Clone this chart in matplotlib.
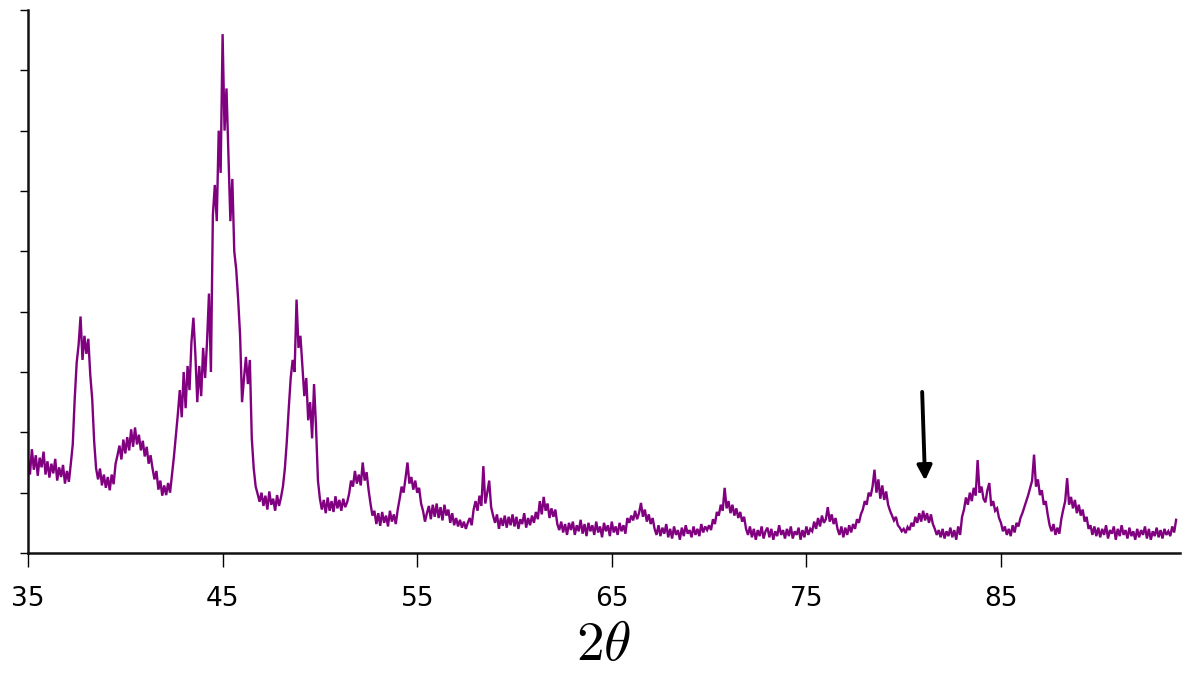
import numpy as np
import matplotlib
matplotlib.use("Agg")
import matplotlib.pyplot as plt

# XRD pattern, intensity every 0.1 degree (2theta from 35.0)
theta_start = 35.0
theta_step = 0.1
intensity = [
    1.55, 1.30, 1.72, 1.38, 1.62, 1.28, 1.58, 1.42, 1.68, 1.30,  # 35
    1.52, 1.25, 1.48, 1.32, 1.56, 1.20, 1.42, 1.26, 1.46, 1.15,  # 36
    1.36, 1.18, 1.48, 1.80, 2.55, 3.15, 3.45, 3.92, 3.20, 3.60,  # 37
    3.30, 3.55, 2.95, 2.55, 1.85, 1.40, 1.22, 1.40, 1.12, 1.30,  # 38
    1.08, 1.26, 1.04, 1.30, 1.14, 1.48, 1.62, 1.78, 1.55, 1.88,  # 39
    1.65, 1.92, 1.70, 2.05, 1.76, 2.08, 1.80, 1.96, 1.70, 1.86,  # 40
    1.60, 1.76, 1.48, 1.62, 1.40, 1.22, 1.36, 1.05, 1.20, 0.95,  # 41
    1.12, 0.96, 1.16, 1.00, 1.30, 1.60, 1.95, 2.30, 2.70, 2.25,  # 42
    3.00, 2.40, 3.10, 2.70, 3.50, 3.90, 3.30, 2.50, 3.10, 2.60,  # 43
    3.40, 2.90, 3.50, 4.30, 3.00, 5.60, 6.10, 5.50, 7.00, 6.30,  # 44
    8.60, 7.00, 7.70, 6.60, 5.50, 6.20, 5.00, 4.70, 4.20, 3.60,  # 45
    2.50, 2.90, 3.25, 2.80, 3.20, 1.90, 1.40, 1.10, 0.98, 0.85,  # 46
    1.00, 0.78, 0.95, 0.72, 1.02, 0.80, 0.90, 0.70, 0.96, 0.78,  # 47
    0.92, 1.10, 1.40, 1.85, 2.40, 2.90, 3.20, 3.00, 4.20, 3.40,  # 48
    3.60, 3.10, 2.60, 2.90, 2.20, 2.50, 1.90, 2.80, 2.10, 1.20,  # 49
    0.90, 0.72, 0.88, 0.66, 0.92, 0.70, 0.86, 0.68, 0.94, 0.74,  # 50
    0.88, 0.70, 0.90, 0.76, 0.84, 0.98, 1.20, 1.10, 1.36, 1.15,  # 51
    1.30, 1.12, 1.50, 1.20, 1.34, 1.05, 0.82, 0.62, 0.70, 0.48,  # 52
    0.66, 0.45, 0.68, 0.50, 0.62, 0.44, 0.70, 0.52, 0.64, 0.48,  # 53
    0.72, 0.90, 1.10, 1.00, 1.24, 1.50, 1.15, 1.26, 1.05, 1.20,  # 54
    1.00, 1.08, 0.82, 0.70, 0.52, 0.66, 0.78, 0.56, 0.80, 0.60,  # 55
    0.82, 0.58, 0.76, 0.54, 0.80, 0.62, 0.72, 0.50, 0.66, 0.46,  # 56
    0.58, 0.44, 0.55, 0.42, 0.52, 0.40, 0.50, 0.58, 0.46, 0.72,  # 57
    0.86, 0.70, 0.95, 0.78, 1.44, 0.82, 1.00, 1.20, 0.76, 0.62,  # 58
    0.50, 0.64, 0.40, 0.58, 0.45, 0.62, 0.42, 0.60, 0.46, 0.64,  # 59
    0.44, 0.60, 0.40, 0.56, 0.48, 0.66, 0.42, 0.58, 0.46, 0.62,  # 60
    0.50, 0.68, 0.56, 0.86, 0.64, 0.93, 0.70, 0.82, 0.58, 0.74,  # 61
    0.60, 0.72, 0.48, 0.38, 0.52, 0.34, 0.48, 0.30, 0.50, 0.38,  # 62
    0.52, 0.30, 0.46, 0.36, 0.55, 0.32, 0.48, 0.28, 0.50, 0.36,  # 63
    0.46, 0.30, 0.52, 0.34, 0.44, 0.26, 0.50, 0.36, 0.46, 0.28,  # 64
    0.52, 0.34, 0.44, 0.30, 0.50, 0.36, 0.46, 0.32, 0.58, 0.50,  # 65
    0.62, 0.54, 0.70, 0.56, 0.66, 0.83, 0.60, 0.72, 0.52, 0.64,  # 66
    0.48, 0.58, 0.40, 0.30, 0.46, 0.28, 0.42, 0.32, 0.48, 0.26,  # 67
    0.40, 0.24, 0.44, 0.30, 0.38, 0.22, 0.42, 0.28, 0.46, 0.32,  # 68
    0.38, 0.26, 0.44, 0.30, 0.40, 0.28, 0.48, 0.34, 0.44, 0.38,  # 69
    0.46, 0.38, 0.56, 0.48, 0.68, 0.62, 0.80, 0.70, 1.08, 0.74,  # 70
    0.86, 0.66, 0.80, 0.62, 0.74, 0.58, 0.68, 0.52, 0.60, 0.40,  # 71
    0.30, 0.44, 0.26, 0.40, 0.22, 0.38, 0.28, 0.44, 0.24, 0.36,  # 72
    0.42, 0.26, 0.40, 0.22, 0.36, 0.28, 0.46, 0.30, 0.38, 0.24,  # 73
    0.40, 0.28, 0.44, 0.24, 0.36, 0.30, 0.42, 0.22, 0.38, 0.26,  # 74
    0.44, 0.30, 0.40, 0.36, 0.52, 0.40, 0.58, 0.44, 0.62, 0.50,  # 75
    0.56, 0.76, 0.52, 0.64, 0.48, 0.58, 0.40, 0.30, 0.44, 0.26,  # 76
    0.42, 0.30, 0.46, 0.34, 0.48, 0.40, 0.56, 0.50, 0.64, 0.72,  # 77
    0.86, 0.80, 1.00, 0.94, 1.10, 1.38, 1.00, 1.22, 0.90, 1.12,  # 78
    0.88, 1.02, 0.80, 0.70, 0.62, 0.54, 0.60, 0.46, 0.42, 0.36,  # 79
    0.40, 0.33, 0.43, 0.38, 0.50, 0.44, 0.60, 0.50, 0.66, 0.52,  # 80
    0.70, 0.54, 0.66, 0.50, 0.64, 0.48, 0.40, 0.30, 0.38, 0.26,  # 81
    0.40, 0.24, 0.36, 0.28, 0.42, 0.26, 0.38, 0.22, 0.44, 0.30,  # 82
    0.60, 0.72, 0.92, 0.80, 1.00, 0.86, 1.08, 0.95, 1.54, 1.00,  # 83
    1.10, 0.90, 0.84, 1.04, 1.16, 0.78, 0.86, 0.70, 0.74, 0.58,  # 84
    0.50, 0.36, 0.44, 0.30, 0.40, 0.28, 0.46, 0.34, 0.50, 0.44,  # 85
    0.58, 0.66, 0.76, 0.86, 0.96, 1.08, 1.20, 1.63, 1.10, 1.22,  # 86
    0.96, 1.04, 0.80, 0.86, 0.64, 0.46, 0.36, 0.48, 0.30, 0.42,  # 87
    0.32, 0.56, 0.72, 0.86, 1.24, 0.80, 0.93, 0.74, 0.88, 0.66,  # 88
    0.80, 0.62, 0.72, 0.52, 0.60, 0.40, 0.46, 0.30, 0.44, 0.28,  # 89
    0.42, 0.26, 0.40, 0.30, 0.46, 0.24, 0.38, 0.32, 0.44, 0.22,  # 90
    0.40, 0.28, 0.46, 0.30, 0.38, 0.24, 0.42, 0.28, 0.36, 0.22,  # 91
    0.40, 0.26, 0.38, 0.30, 0.44, 0.24, 0.40, 0.22, 0.36, 0.28,  # 92
    0.42, 0.26, 0.38, 0.24, 0.40, 0.30, 0.36, 0.28, 0.44, 0.34,  # 93
    0.55,
]
x_ticks = [35, 45, 55, 65, 75, 85]
y_ticks = list(range(10))

# arrow marking the weak reflection near 81 degrees
arrow_tail = (80.95, 2.67)
arrow_head = (81.1, 1.2)

two_theta = np.round(theta_start + theta_step * np.arange(len(intensity)), 1)

plt.rcParams['mathtext.fontset'] = 'cm'
fig = plt.figure(figsize=(11.89, 6.73), dpi=100)
ax = fig.add_axes([28 / 1189, 120 / 673, 1152 / 1189, 543 / 673])

ax.plot(two_theta, intensity, color='#800080', lw=1.7, solid_joinstyle='miter')

ax.annotate('', xy=arrow_head, xytext=arrow_tail,
            arrowprops=dict(arrowstyle='-|>', color='black', lw=2.8,
                            mutation_scale=22, shrinkA=0, shrinkB=0))

ax.set_xlim(35, 94.2)
ax.set_ylim(0, 9)
ax.set_xticks(x_ticks)
ax.set_yticks(y_ticks)
ax.set_yticklabels([])
ax.tick_params(axis='x', direction='out', length=10, width=1, labelsize=19, pad=14)
ax.tick_params(axis='y', direction='out', length=6, width=1)
for s in ['top', 'right']:
    ax.spines[s].set_visible(False)
for s in ['left', 'bottom']:
    ax.spines[s].set_linewidth(1.8)
    ax.spines[s].set_color('#111111')

ax.set_xlabel(r'$2\theta$', fontsize=40, labelpad=4)

fig.savefig('out.png', dpi=100)
